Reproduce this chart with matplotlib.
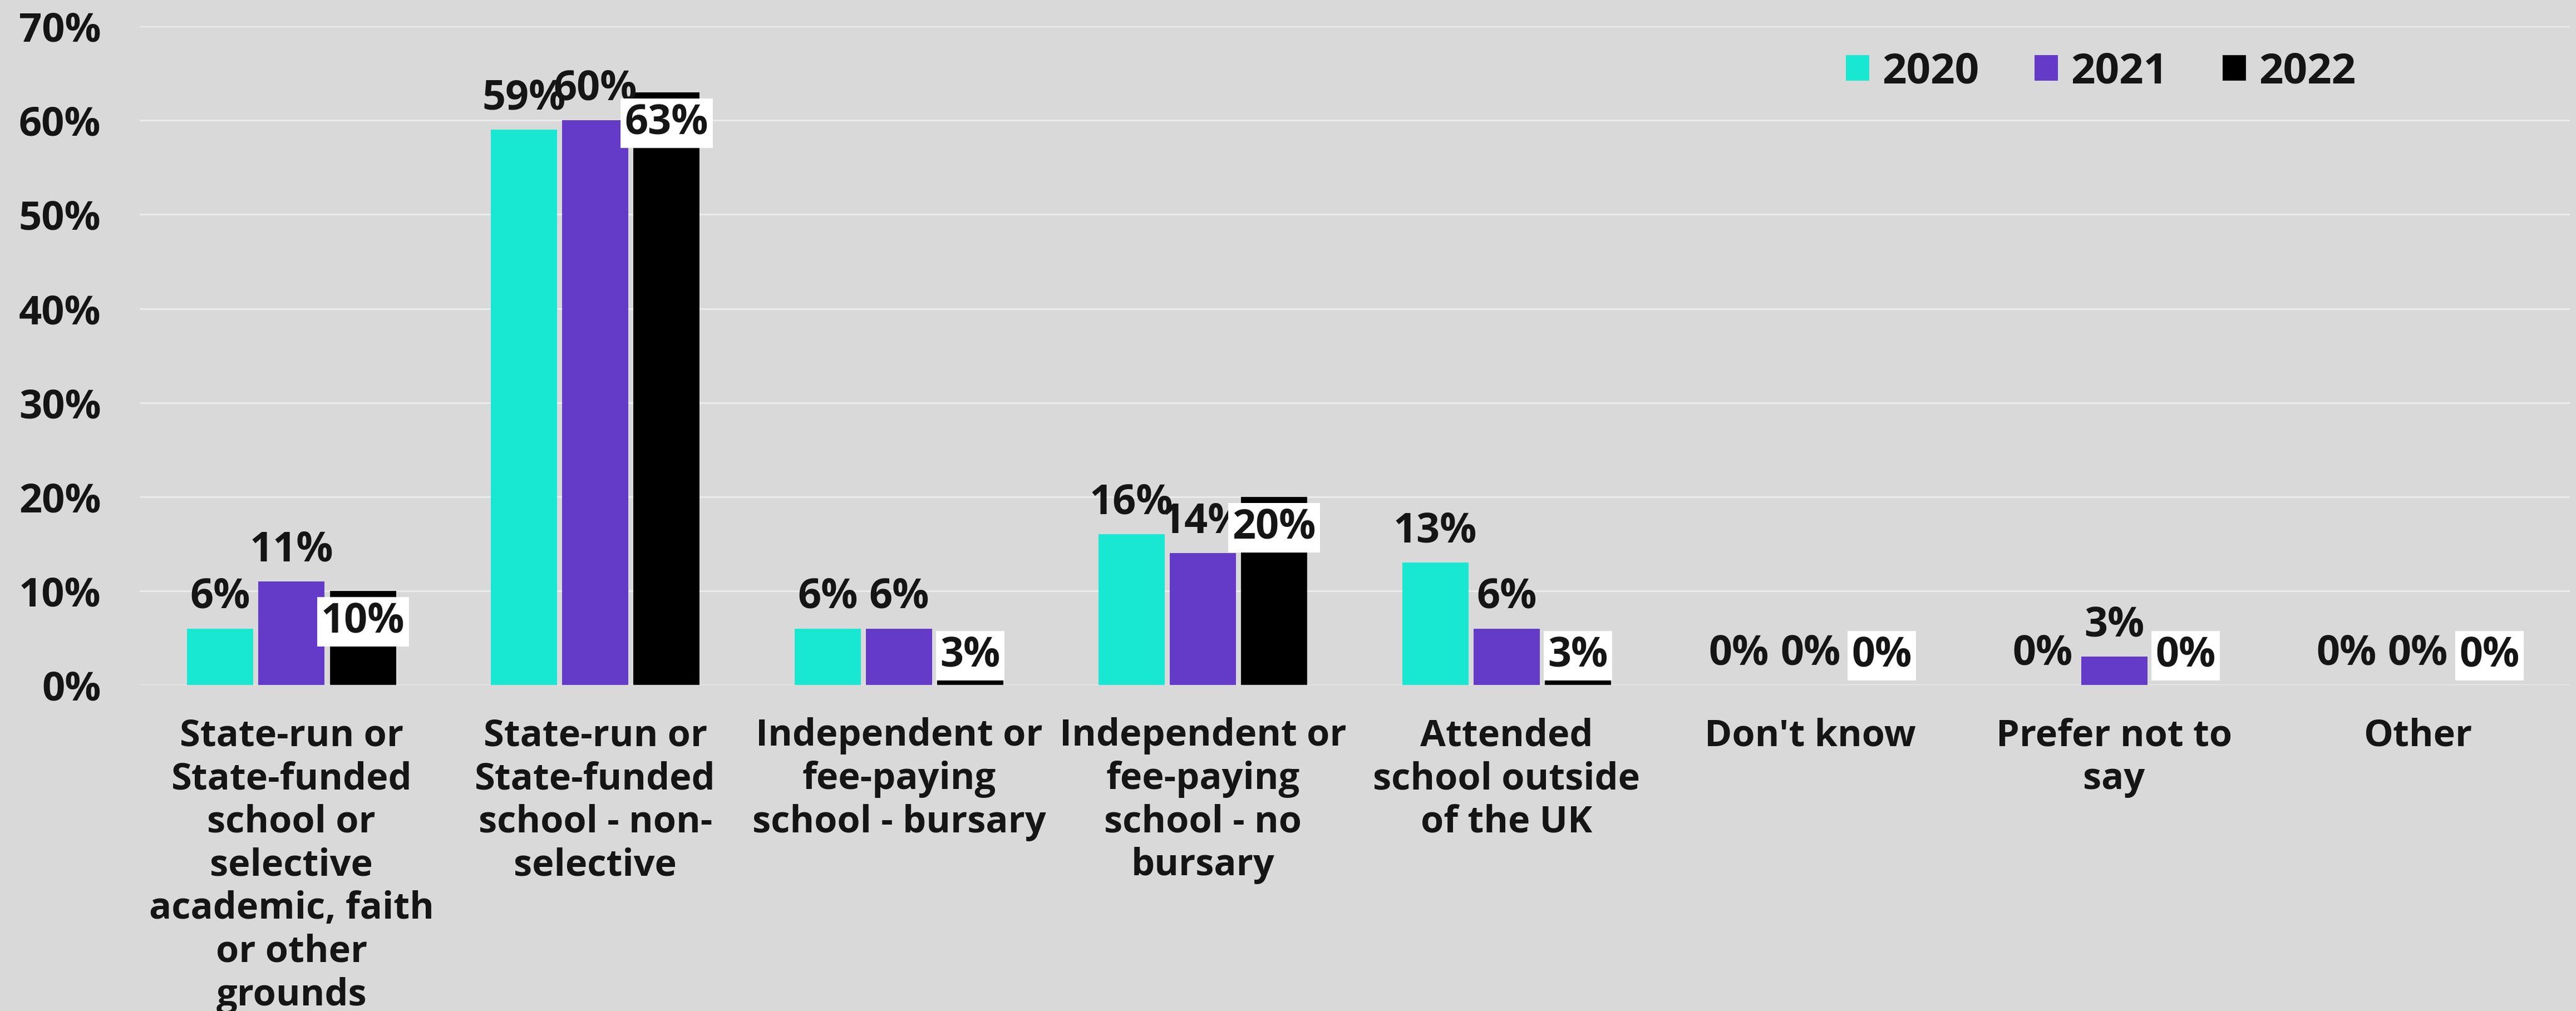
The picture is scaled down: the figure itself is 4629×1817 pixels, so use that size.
import numpy as np
import matplotlib.pyplot as plt

categories = [
    "State-run or\nState-funded\nschool or\nselective\nacademic, faith\nor other\ngrounds",
    "State-run or\nState-funded\nschool - non-\nselective",
    "Independent or\nfee-paying\nschool - bursary",
    "Independent or\nfee-paying\nschool - no\nbursary",
    "Attended\nschool outside\nof the UK",
    "Don't know",
    "Prefer not to\nsay",
    "Other",
]
years = ["2020", "2021", "2022"]
vals_2020 = [6, 59, 6, 16, 13, 0, 0, 0]
vals_2021 = [11, 60, 6, 14, 6, 0, 3, 0]
vals_2022 = [10, 63, 3, 20, 3, 0, 0, 0]
yticks = [0, 10, 20, 30, 40, 50, 60, 70]

colors = ["#18e8d2", "#643ac8", "#000000"]
bg = "#d9d9d9"
txt = "#151515"

plt.rcParams['font.family'] = ['Open Sans', 'DejaVu Sans']
plt.rcParams['font.weight'] = 'bold'

fig = plt.figure(figsize=(46.29, 18.17), dpi=100, facecolor=bg)
ax = fig.add_axes([0.0542, 0.3225, 0.9434, 0.6515], facecolor=bg)

x = np.arange(len(categories))
step = 0.235
width = 0.218
series = [vals_2020, vals_2021, vals_2022]

for i, (vals, c, yr) in enumerate(zip(series, colors, years)):
    pos = x + (i - 1) * step
    ax.bar(pos, vals, width=width, color=c, label=yr, zorder=2)
    for p, v in zip(pos, vals):
        if i < 2:
            # plain labels sitting above the bar
            ax.text(p, v + 3.3, f"{v}%", ha='center', va='center',
                    fontsize=53, fontweight='bold', color=txt, zorder=4)
        else:
            # white boxed labels just inside the bar end
            ax.text(p, max(v - 3.3, 3.1), f"{v}%", ha='center', va='center',
                    fontsize=53, fontweight='bold', color=txt, zorder=5,
                    bbox=dict(boxstyle='square,pad=0.1', fc='white', ec='none'))

ax.set_xlim(-0.5, len(categories) - 0.5)
ax.set_ylim(0, 70)
ax.set_yticks(yticks)
ax.set_yticklabels([f"{t}%" for t in yticks], fontsize=52, fontweight='bold', color=txt)
ax.set_xticks(x)
ax.set_xticklabels(categories, fontsize=48, fontweight='bold', color=txt,
                   linespacing=1.21, va='top')
ax.tick_params(axis='y', length=0, pad=50)
ax.tick_params(axis='x', length=0, pad=42)
ax.grid(axis='y', color='#ebebeb', linewidth=2.2, zorder=0)
ax.set_axisbelow(True)
for s in ax.spines.values():
    s.set_visible(False)

leg = ax.legend(loc='center', bbox_to_anchor=(0.8156, 0.9285), bbox_transform=fig.transFigure,
                ncol=3, frameon=False, fontsize=55, handlelength=0.55, handleheight=0.55,
                handletextpad=0.3, columnspacing=1.3, borderpad=0)
for t in leg.get_texts():
    t.set_color(txt)
    t.set_fontweight('bold')

fig.savefig("out.png", dpi=100, facecolor=bg)
